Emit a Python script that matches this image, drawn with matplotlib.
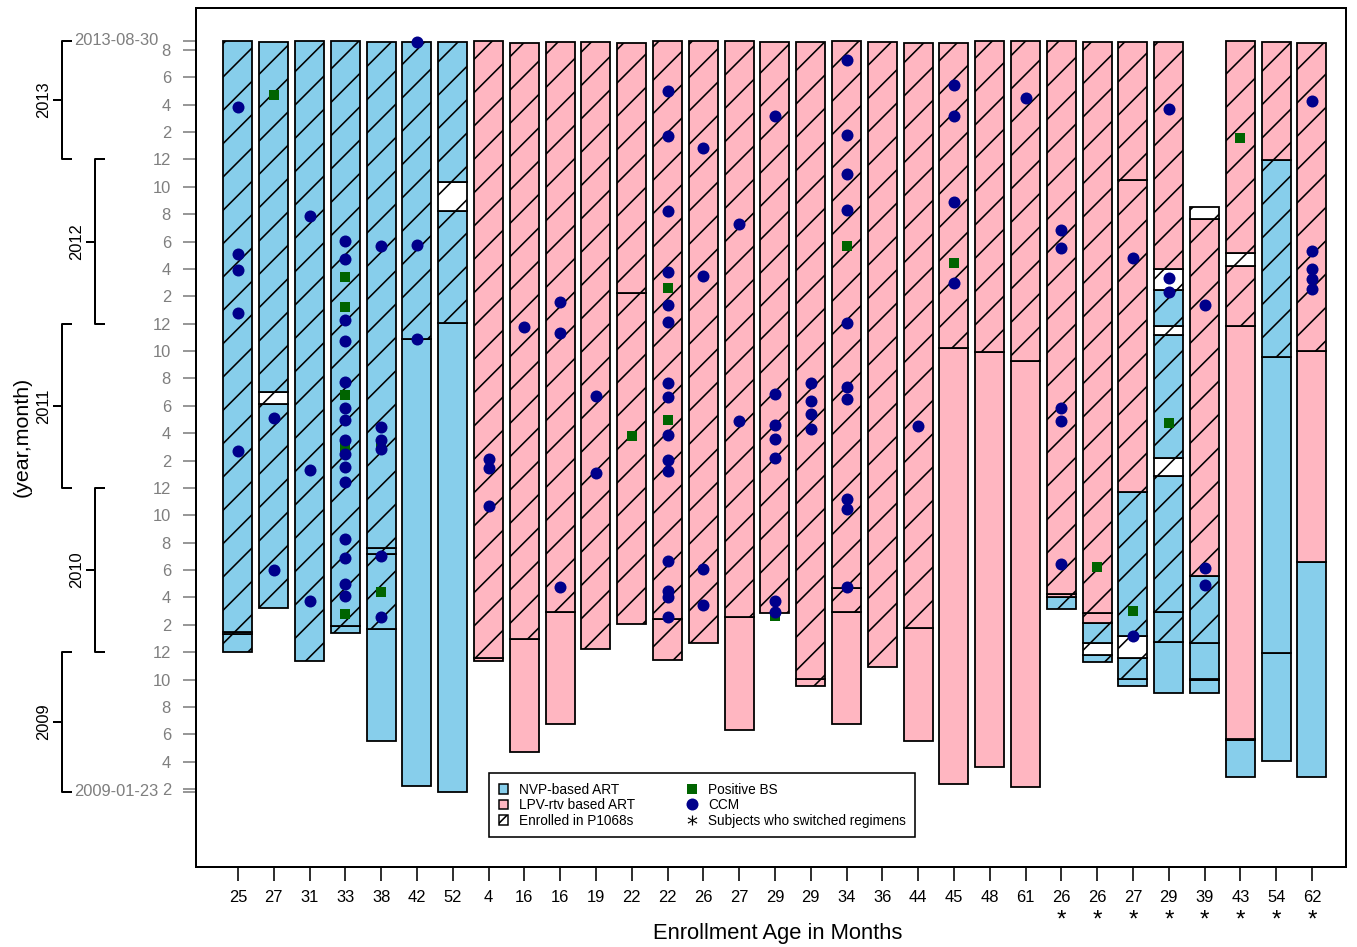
import matplotlib
matplotlib.use('Agg')
import matplotlib.pyplot as plt
from matplotlib.patches import Patch
from matplotlib.lines import Line2D
import matplotlib.transforms as mtransforms

plt.rcParams['font.family'] = ['Liberation Sans', 'DejaVu Sans']
plt.rcParams['hatch.linewidth'] = 0.58

DPI = 200
W, H = 1357, 947


def px(v):
    return v * 72.0 / DPI


# ---------------- data (time axis: months, 2 = Feb 2009, 56 = Aug 2013) -------------
ages = [25, 27, 31, 33, 38, 42, 52, 4, 16, 16, 19, 22, 22, 26, 27, 29, 29, 34, 36,
        44, 45, 48, 61, 26, 26, 27, 29, 39, 43, 54, 62]
switched = [False] * 23 + [True] * 8

# (start, end, regimen N=NVP / L=LPV-rtv / W=gap, enrolled in P1068s)
segments = [
    [(11.99, 13.33, 'N', 1), (13.33, 13.49, 'N', 1), (13.49, 56.68, 'N', 1)],
    [(15.20, 30.13, 'N', 1), (30.13, 31.03, 'W', 1), (31.03, 56.61, 'N', 1)],
    [(11.35, 56.66, 'N', 1)],
    [(13.42, 13.91, 'N', 1), (13.91, 56.68, 'N', 1)],
    [(5.53, 13.69, 'N', 0), (13.69, 19.17, 'N', 1), (19.17, 19.61, 'N', 1), (19.61, 56.61, 'N', 1)],
    [(2.24, 34.88, 'N', 0), (34.88, 56.61, 'N', 1)],
    [(1.80, 36.03, 'N', 0), (36.03, 44.24, 'N', 1), (44.24, 46.36, 'W', 1), (46.36, 56.61, 'N', 1)],
    [(11.35, 11.59, 'L', 1), (11.59, 56.68, 'L', 1)],
    [(4.73, 12.96, 'L', 0), (12.96, 56.50, 'L', 1)],
    [(6.73, 14.91, 'L', 0), (14.91, 56.59, 'L', 1)],
    [(12.21, 56.58, 'L', 1)],
    [(14.06, 38.28, 'L', 1), (38.28, 56.50, 'L', 1)],
    [(11.43, 14.40, 'L', 1), (14.40, 56.68, 'L', 1)],
    [(12.65, 56.68, 'L', 1)],
    [(6.31, 14.55, 'L', 0), (14.55, 56.68, 'L', 1)],
    [(14.84, 56.58, 'L', 1)],
    [(9.55, 10.02, 'L', 1), (10.02, 56.58, 'L', 1)],
    [(6.73, 14.91, 'L', 0), (14.91, 16.67, 'L', 1), (16.67, 56.68, 'L', 1)],
    [(10.94, 56.58, 'L', 1)],
    [(5.53, 13.79, 'L', 0), (13.79, 56.50, 'L', 1)],
    [(2.37, 34.23, 'L', 0), (34.23, 56.50, 'L', 1)],
    [(3.63, 33.93, 'L', 0), (33.93, 56.63, 'L', 1)],
    [(2.17, 33.27, 'L', 0), (33.27, 56.63, 'L', 1)],
    [(15.15, 16.05, 'N', 1), (16.05, 16.23, 'L', 1), (16.23, 56.68, 'L', 1)],
    [(11.30, 11.79, 'N', 1), (11.79, 12.69, 'W', 1), (12.69, 14.15, 'N', 1),
     (14.15, 14.84, 'L', 1), (14.84, 56.56, 'L', 1)],
    [(9.53, 10.02, 'N', 0), (10.02, 11.59, 'N', 1), (11.59, 13.18, 'W', 1),
     (13.18, 23.72, 'N', 1), (23.72, 46.50, 'L', 1), (46.50, 56.56, 'L', 1)],
    [(8.99, 12.72, 'N', 0), (12.72, 14.96, 'N', 1), (14.96, 24.89, 'N', 1),
     (24.89, 26.16, 'W', 1), (26.16, 35.17, 'N', 1), (35.17, 35.80, 'W', 1),
     (35.80, 38.46, 'N', 1), (38.46, 39.98, 'W', 1), (39.98, 56.56, 'L', 1)],
    [(8.99, 9.96, 'N', 0), (9.96, 10.04, 'N', 0), (10.04, 12.69, 'N', 0),
     (12.69, 17.53, 'N', 1), (17.53, 43.63, 'L', 1), (43.63, 44.55, 'W', 1)],
    [(2.90, 5.58, 'N', 0), (5.58, 5.66, 'N', 0), (5.66, 35.85, 'L', 0),
     (35.85, 40.24, 'L', 1), (40.24, 41.14, 'W', 1), (41.14, 56.68, 'L', 1)],
    [(4.05, 11.96, 'N', 0), (11.96, 33.54, 'N', 0), (33.54, 47.96, 'N', 1), (47.96, 56.56, 'L', 1)],
    [(2.90, 18.61, 'N', 0), (18.61, 34.00, 'L', 0), (34.00, 56.49, 'L', 1)],
]

ccm = [
    [51.84, 41.09, 39.93, 36.78, 26.70],
    [29.11, 18.00],
    [43.89, 25.31, 15.74],
    [42.04, 40.73, 36.27, 34.74, 31.74, 29.84, 28.96, 27.50, 26.48, 25.53, 24.43,
     20.27, 18.88, 16.98, 16.10],
    [41.70, 28.45, 27.50, 26.82, 19.05, 14.55],
    [56.61, 41.75, 34.88],
    [],
    [26.09, 25.44, 22.70],
    [35.75],
    [37.58, 35.31, 16.74],
    [30.74, 25.10],
    [],
    [52.97, 49.69, 44.23, 39.77, 37.40, 36.09, 31.67, 30.64, 27.84, 26.04, 25.26,
     18.63, 16.47, 16.03, 14.59],
    [48.87, 39.48, 18.05, 15.44],
    [43.31, 28.91],
    [51.20, 30.87, 28.57, 27.60, 26.22, 15.76, 14.96],
    [31.70, 30.32, 29.38, 28.31],
    [55.27, 49.76, 46.97, 44.31, 36.06, 31.39, 30.53, 23.17, 22.49, 16.78],
    [],
    [28.52],
    [53.47, 51.20, 44.89, 39.01],
    [],
    [52.50],
    [42.85, 41.55, 29.82, 28.89, 18.42],
    [],
    [40.78, 13.18],
    [51.69, 39.32, 38.32],
    [37.39, 18.13, 16.91],
    [],
    [],
    [52.29, 41.33, 39.98, 39.24, 38.51],
]

pos_bs = [
    [], [52.71], [], [39.41, 37.22, 30.79, 26.99, 14.79], [27.08, 16.42], [], [],
    [], [], [], [], [27.79], [38.62, 28.96], [], [], [14.64], [], [41.70], [],
    [], [40.44], [], [], [], [18.24], [15.03], [28.72], [], [49.55], [], [],
]

years = [2009, 2010, 2011, 2012, 2013]
year_start = [1.80, 12, 24, 36, 48]
year_end = [12, 24, 36, 48, 56.68]
start_label, end_label = '2009-01-23', '2013-08-30'
start_t, end_t = 1.80, 56.68
month_ticks = list(range(2, 57, 2))

# ---------------- styling -----------------
fill = {'N': '#87CEEB', 'L': '#FFB6C1', 'W': 'white'}
ccm_color = '#00008B'
bs_color = '#006400'
gray = '#7f7f7f'

fig = plt.figure(figsize=(W / DPI, H / DPI), dpi=DPI)
ax = fig.add_axes([196 / W, 1 - 867 / H, (1346 - 196) / W, (867 - 8) / H])

for i, segs in enumerate(segments):
    for (s, e, reg, enr) in segs:
        ax.bar(i, e - s, bottom=s, width=0.81, color=fill[reg], edgecolor='black',
               linewidth=px(1.8), hatch='//' if enr else None, zorder=2)

for i, ts in enumerate(pos_bs):
    if ts:
        ax.plot([i] * len(ts), ts, 's', color=bs_color, ms=px(10), mew=0, zorder=3)
for i, ts in enumerate(ccm):
    if ts:
        ax.plot([i] * len(ts), ts, 'o', color=ccm_color, ms=px(12), mew=0, zorder=4)

ax.set_xlim(-1.173, 30.95)
ax.set_ylim(-3.70, 59.07)
ax.set_xticks(range(len(ages)))
ax.set_xticklabels([str(a) for a in ages])
ax.set_yticks(month_ticks)
ax.set_yticklabels([str((t - 1) % 12 + 1) for t in month_ticks])
ax.set_yticks([start_t, end_t], minor=True)
ax.tick_params(axis='y', which='both', colors=gray, length=px(13), width=px(1.6),
               pad=px(12), labelsize=px(16.5), direction='out')
ax.tick_params(axis='x', length=px(14), width=px(1.6), pad=px(9),
               labelsize=px(16.5), colors='black')
for sp in ax.spines.values():
    sp.set_linewidth(px(2))

# asterisks for switched subjects
tx = mtransforms.blended_transform_factory(ax.transData, fig.transFigure)
for i, sw in enumerate(switched):
    if sw:
        ax.text(i, 1 - 927 / H, '*', transform=tx, ha='center', va='baseline',
                fontsize=px(24), clip_on=False)

# year brackets
ty = mtransforms.blended_transform_factory(fig.transFigure, ax.transData)
for k, (yr, s, e) in enumerate(zip(years, year_start, year_end)):
    xv = 62 if k % 2 == 0 else 95
    lw = px(2)
    fig.add_artist(Line2D([(xv + 9) / W, xv / W, xv / W, (xv + 9) / W], [s, s, e, e],
                          transform=ty, color='black', lw=lw))
    mid = (s + e) / 2
    fig.add_artist(Line2D([(xv - 8) / W, xv / W], [mid, mid], transform=ty,
                          color='black', lw=lw))
    fig.text((xv - 18) / W, mid, str(yr), transform=ty, rotation=90, ha='center',
             va='center', fontsize=px(16.5))

fig.text(158 / W, end_t, end_label, transform=ty, ha='right', va='center',
         color=gray, fontsize=px(16.5))
fig.text(158 / W, start_t, start_label, transform=ty, ha='right', va='center',
         color=gray, fontsize=px(16.5))

fig.text(22 / W, 1 - 437 / H, '(year,month)', rotation=90, ha='center', va='center',
         fontsize=px(21.5))
fig.text(778 / W, 1 - 933 / H, 'Enrollment Age in Months', ha='center', va='center',
         fontsize=px(22))

# legend
handles = [
    Patch(facecolor=fill['N'], edgecolor='black', linewidth=px(1.5)),
    Patch(facecolor=fill['L'], edgecolor='black', linewidth=px(1.5)),
    Patch(facecolor='white', edgecolor='black', linewidth=px(1.5), hatch='//////'),
    Line2D([], [], marker='s', color=bs_color, ls='', ms=px(10), mew=0),
    Line2D([], [], marker='o', color=ccm_color, ls='', ms=px(12), mew=0),
    Line2D([], [], marker='$*$', color='black', ls='', ms=px(10), mew=0),
]
labels = ['NVP-based ART', 'LPV-rtv based ART', 'Enrolled in P1068s',
          'Positive BS', 'CCM', 'Subjects who switched regimens']
leg = fig.legend(handles, labels, loc='upper left',
                 bbox_to_anchor=(489 / W, 1 - 773 / H), ncol=2, borderaxespad=0,
                 fontsize=px(13.7), handlelength=0.7, handleheight=0.7,
                 handletextpad=0.8, columnspacing=3.8, labelspacing=0.12,
                 borderpad=0.7, fancybox=False, framealpha=1, edgecolor='black')
leg.get_frame().set_linewidth(px(1.6))

fig.savefig('out.png', dpi=DPI)
